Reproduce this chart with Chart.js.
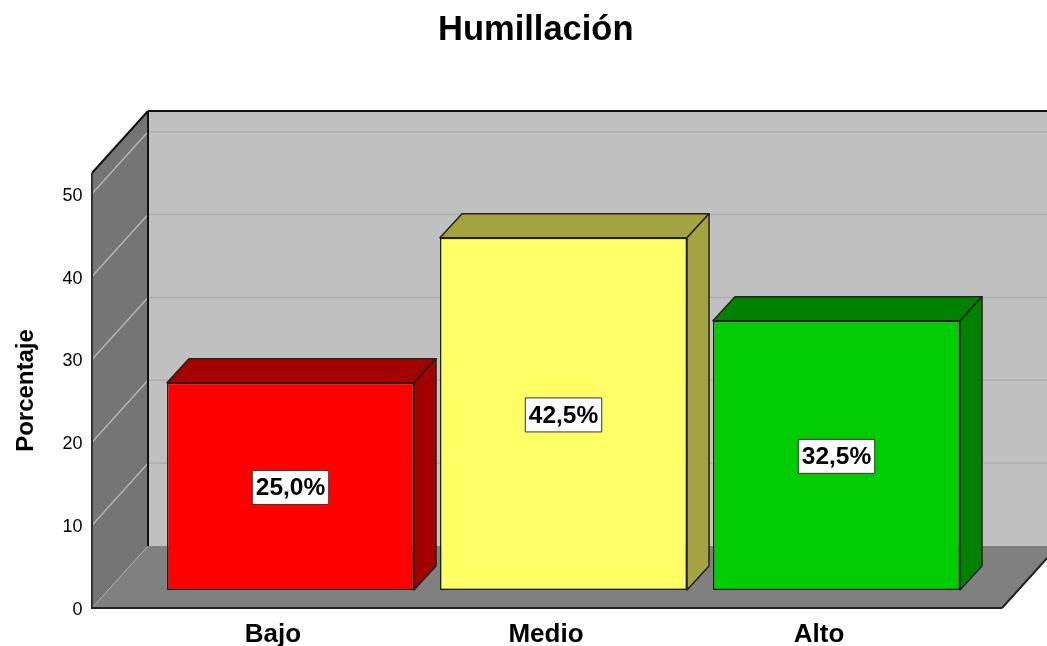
<!DOCTYPE html>
<html><head><meta charset="utf-8">
<style>html,body{margin:0;padding:0;background:#fff;overflow:hidden}canvas{display:block}</style>
<script src="https://cdn.jsdelivr.net/npm/chart.js@4"></script></head>
<body><canvas id="c" width="1047" height="646"></canvas>
<script>
const categories = ["Bajo", "Medio", "Alto"];
const values = [25.0, 42.5, 32.5];
const valueLabels = ["25,0%", "42,5%", "32,5%"];
const frontColors = ["#ff0000", "#ffff66", "#00cc00"];
const sideColors = ["#a30000", "#a3a342", "#008200"];
const yTicks = [0, 10, 20, 30, 40, 50];
const FONT = '"Liberation Sans", Arial, sans-serif';

// pseudo-3D projection
const WALL = {dx: 56, dy: -62, left: 92, right: 1002};
const BAR = {dx: 22, dy: -24, shiftX: 17.5, shiftY: -18};

const scene = {
  id: 'scene',
  afterLayout(chart) {
    const t = chart.titleBlock;
    if (t) { t.left += 58; t.right += 58; }
  },
  beforeDraw(chart) {
    const {ctx, width, height} = chart;
    ctx.save();
    ctx.fillStyle = '#fff'; ctx.fillRect(0, 0, width, height);
    const y = chart.scales.y;
    const L = WALL.left, R = WALL.right, dx = WALL.dx, dy = WALL.dy;
    const bot = y.getPixelForValue(y.min), top = y.getPixelForValue(y.max);
    const poly = (pts, fill) => {
      ctx.beginPath(); pts.forEach((p, i) => i ? ctx.lineTo(p[0], p[1]) : ctx.moveTo(p[0], p[1]));
      ctx.closePath(); ctx.fillStyle = fill; ctx.fill();
    };
    const line = (a, b, col, w) => {
      ctx.beginPath(); ctx.moveTo(a[0], a[1]); ctx.lineTo(b[0], b[1]);
      ctx.strokeStyle = col; ctx.lineWidth = w; ctx.stroke();
    };
    // back wall, side wall, floor
    poly([[L + dx, top + dy], [R + dx, top + dy], [R + dx, bot + dy], [L + dx, bot + dy]], '#c0c0c0');
    poly([[L, top], [L + dx, top + dy], [L + dx, bot + dy], [L, bot]], '#757575');
    poly([[L, bot], [L + dx, bot + dy], [R + dx, bot + dy], [R, bot]], '#808080');
    // gridlines
    yTicks.forEach(v => {
      if (v === 0) return;
      const p = y.getPixelForValue(v);
      line([L, p], [L + dx, p + dy], '#b4b4b4', 1.5);
      line([L + dx, p + dy], [R + dx, p + dy], '#aeaeae', 1.5);
    });
    line([L, bot], [L + dx, bot + dy], '#a8a8a8', 1);
    // frame edges
    line([L, top], [L + dx, top + dy], '#111', 2);
    line([L + dx, top + dy], [R + dx, top + dy], '#111', 2);
    line([L + dx, top + dy], [L + dx, bot + dy], '#111', 2);
    line([L, top], [L, bot], '#333', 2);
    line([L - 1, bot], [R, bot], '#222', 2);
    line([R, bot], [R + dx, bot + dy], '#222', 2);
    ctx.restore();
  },
  beforeDatasetsDraw(chart) {
    const {ctx} = chart;
    ctx.save();
    ctx.beginPath(); ctx.rect(0, 0, chart.width, chart.height); ctx.clip();
    ctx.translate(BAR.shiftX, BAR.shiftY);
    const meta = chart.getDatasetMeta(0);
    meta.data.forEach((el, i) => {
      const {x, y, base, width} = el.getProps(['x', 'y', 'base', 'width'], true);
      const l = x - width / 2, r = x + width / 2, d = BAR.dx, e = BAR.dy;
      ctx.fillStyle = sideColors[i];
      ctx.strokeStyle = '#222'; ctx.lineWidth = 1.5; ctx.lineJoin = 'round';
      ctx.beginPath();
      ctx.moveTo(l, y); ctx.lineTo(l + d, y + e); ctx.lineTo(r + d, y + e); ctx.lineTo(r, y); ctx.closePath();
      ctx.fill(); ctx.stroke();
      ctx.beginPath();
      ctx.moveTo(r, y); ctx.lineTo(r + d, y + e); ctx.lineTo(r + d, base + e); ctx.lineTo(r, base); ctx.closePath();
      ctx.fill(); ctx.stroke();
    });
  },
  afterDatasetsDraw(chart) {
    const {ctx} = chart;
    const meta = chart.getDatasetMeta(0);
    ctx.font = 'bold 24.5px ' + FONT;
    ctx.textAlign = 'center'; ctx.textBaseline = 'middle';
    meta.data.forEach((el, i) => {
      const {x, y, base} = el.getProps(['x', 'y', 'base'], true);
      const cy = (y + base) / 2 + 1;
      const tw = ctx.measureText(valueLabels[i]).width, bw = tw + 7, bh = 34;
      ctx.fillStyle = '#fff'; ctx.strokeStyle = '#333'; ctx.lineWidth = 1;
      ctx.fillRect(x - bw / 2, cy - bh / 2, bw, bh);
      ctx.strokeRect(x - bw / 2, cy - bh / 2, bw, bh);
      ctx.fillStyle = '#000';
      ctx.fillText(valueLabels[i], x, cy + 1);
    });
    ctx.restore();
  }
};

new Chart(document.getElementById('c'), {
  type: 'bar',
  data: {
    labels: categories,
    datasets: [{
      data: values,
      backgroundColor: frontColors,
      borderColor: '#222',
      borderWidth: 1.5,
      borderSkipped: false,
      barPercentage: 0.905,
      categoryPercentage: 1
    }]
  },
  plugins: [scene],
  options: {
    responsive: false,
    animation: false,
    layout: {padding: {left: 0, right: 91.5, top: 0, bottom: 0}},
    plugins: {
      legend: {display: false},
      tooltip: {enabled: false},
      title: {
        display: true,
        text: 'Humillación',
        color: '#000',
        font: {family: FONT, size: 34.5, weight: 'bold', lineHeight: 1.2},
        padding: {top: 10, bottom: 121.6}
      }
    },
    scales: {
      x: {
        grid: {display: false, drawTicks: false},
        border: {display: false},
        ticks: {color: '#000', font: {family: FONT, size: 26, weight: 'bold'}, padding: 11, maxRotation: 0},
        afterFit(s) { s.height = 38; }
      },
      y: {
        min: 0,
        max: 52.5,
        afterBuildTicks(s) { s.ticks = yTicks.map(v => ({value: v})); },
        grid: {display: false, drawTicks: false},
        border: {display: false},
        ticks: {color: '#000', font: {family: FONT, size: 18}, padding: 54, labelOffset: 2},
        title: {display: true, text: 'Porcentaje', color: '#000', font: {family: FONT, size: 24, weight: 'bold'}, padding: {top: 12, bottom: 0}},
        afterFit(s) { s.width = 136.5; s.paddingTop = 0; s.paddingBottom = 0; }
      }
    }
  }
});
</script></body></html>
